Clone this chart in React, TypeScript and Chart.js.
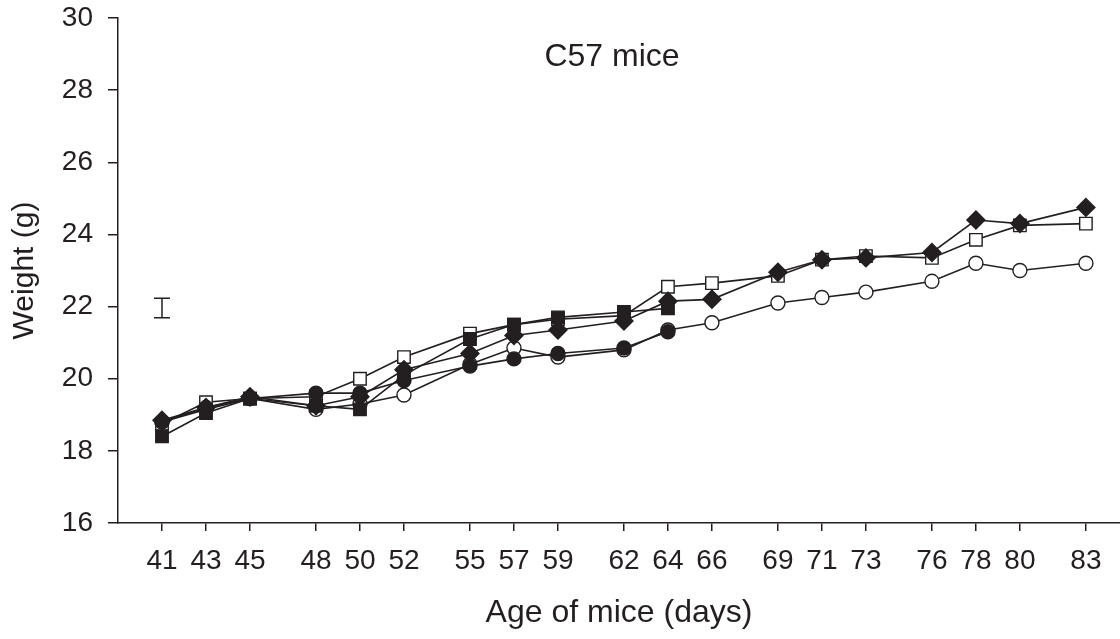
import React, { useEffect, useRef } from 'react';
import { Chart, registerables } from 'chart.js';

Chart.register(...registerables);

// Age of mice (days) at which weight was recorded
const days = [41, 43, 45, 48, 50, 52, 55, 57, 59, 62, 64, 66, 69, 71, 73, 76, 78, 80, 83];
const xTickDays = [41, 43, 45, 48, 50, 52, 55, 57, 59, 62, 64, 66, 69, 71, 73, 76, 78, 80, 83];
const yTickValues = [16, 18, 20, 22, 24, 26, 28, 30];

// Weight (g) per group
const filledDiamond = [18.85, 19.2, 19.5, 19.25, 19.5, 20.25, 20.7, 21.2, 21.35, 21.6, 22.15, 22.2, 22.95, 23.3, 23.35, 23.5, 24.4, 24.3, 24.75];
const openSquare = [18.75, 19.35, 19.45, 19.5, 20.0, 20.6, 21.25, 21.5, 21.65, 21.75, 22.55, 22.65, 22.85, 23.3, 23.4, 23.35, 23.85, 24.25, 24.3];
const openCircle = [18.8, 19.15, 19.45, 19.15, 19.3, 19.55, 20.4, 20.85, 20.6, 20.8, 21.35, 21.55, 22.1, 22.25, 22.4, 22.7, 23.2, 23.0, 23.2];
const filledCircle = [18.8, 19.2, 19.45, 19.6, 19.6, 19.95, 20.35, 20.55, 20.7, 20.85, 21.3];
const filledSquare = [18.4, 19.05, 19.45, 19.25, 19.15, 20.1, 21.1, 21.5, 21.7, 21.85, 21.95];

// Representative error bar
const errorBarDay = [41];
const errorBarMean = [21.96];
const errorBarHalf = [0.27];

const chartTitle = 'C57 mice';
const xTitle = 'Age of mice (days)';
const yTitle = 'Weight (g)';

const INK = '#231f20';
const FONT = 'Arial, "Liberation Sans", Helvetica, sans-serif';

export default function App() {
  const ref = useRef<HTMLCanvasElement>(null);

  useEffect(() => {
    document.body.style.margin = '0';
    const canvas = ref.current;
    if (!canvas) return;

    const mk = (label: string, values: number[], style: any, radius: number, filled: boolean, order: number) => ({
      label,
      data: values.map((v, i) => ({ x: days[i], y: v })),
      pointStyle: style,
      pointRadius: radius,
      pointHoverRadius: radius,
      pointBackgroundColor: filled ? INK : '#ffffff',
      pointBorderColor: INK,
      pointBorderWidth: 1.4,
      borderColor: INK,
      borderWidth: 1.6,
      fill: false,
      tension: 0,
      order,
    });

    const overlay = {
      id: 'overlay',
      afterDatasetsDraw(chart: any) {
        const { ctx, scales } = chart;
        const xs = scales.x;
        const ys = scales.y;
        ctx.save();
        ctx.strokeStyle = INK;
        ctx.lineWidth = 1.5;
        for (let i = 0; i < errorBarDay.length; i++) {
          const px = xs.getPixelForValue(errorBarDay[i]);
          const top = ys.getPixelForValue(errorBarMean[i] + errorBarHalf[i]);
          const bot = ys.getPixelForValue(errorBarMean[i] - errorBarHalf[i]);
          const cap = 8;
          ctx.beginPath();
          ctx.moveTo(px, top);
          ctx.lineTo(px, bot);
          ctx.moveTo(px - cap, top);
          ctx.lineTo(px + cap, top);
          ctx.moveTo(px - cap, bot);
          ctx.lineTo(px + cap, bot);
          ctx.stroke();
        }
        ctx.fillStyle = INK;
        ctx.font = `32px ${FONT}`;
        ctx.textAlign = 'center';
        ctx.textBaseline = 'middle';
        ctx.fillText(chartTitle, 612, 57);
        ctx.restore();
      },
    };

    const chart = new Chart(canvas, {
      type: 'line',
      data: {
        datasets: [
          mk('filled square', filledSquare, 'rect', 8.8, true, 0),
          mk('filled circle', filledCircle, 'circle', 7, true, 1),
          mk('filled diamond', filledDiamond, 'rectRot', 9, true, 2),
          mk('open square', openSquare, 'rect', 8.8, false, 3),
          mk('open circle', openCircle, 'circle', 7, false, 4),
        ] as any,
      },
      options: {
        animation: false,
        responsive: false,
        devicePixelRatio: 1,
        layout: { autoPadding: false, padding: { top: 18, left: 0, right: 0, bottom: 0 } },
        plugins: {
          legend: { display: false },
          tooltip: { enabled: false },
          title: { display: false },
        },
        events: [],
        scales: {
          x: {
            type: 'linear',
            min: 39,
            max: 84.55,
            afterBuildTicks: (scale: any) => {
              scale.ticks = xTickDays.map((v) => ({ value: v }));
            },
            afterFit: (scale: any) => {
              scale.height = 116;
              scale.paddingLeft = 0;
              scale.paddingRight = 0;
              scale.paddingTop = 0;
              scale.paddingBottom = 0;
            },
            ticks: {
              color: INK,
              font: { family: FONT, size: 28 },
              padding: 13,
              maxRotation: 0,
              autoSkip: false,
              callback: (v: any) => String(v),
            },
            grid: {
              display: true,
              drawOnChartArea: false,
              drawTicks: true,
              tickLength: 8,
              color: INK,
              lineWidth: 1.5,
            },
            border: { display: true, color: INK, width: 1.5 },
            title: {
              display: true,
              text: xTitle,
              color: INK,
              font: { family: FONT, size: 32 },
              padding: { top: 0, bottom: 7 },
            },
          },
          y: {
            type: 'linear',
            min: 16,
            max: 30,
            afterBuildTicks: (scale: any) => {
              scale.ticks = yTickValues.map((v) => ({ value: v }));
            },
            afterFit: (scale: any) => {
              scale.width = 118;
              scale.paddingLeft = 0;
              scale.paddingRight = 0;
              scale.paddingTop = 0;
              scale.paddingBottom = 0;
            },
            ticks: {
              color: INK,
              font: { family: FONT, size: 28 },
              padding: 15,
              autoSkip: false,
              callback: (v: any) => String(v),
            },
            grid: {
              display: true,
              drawOnChartArea: false,
              drawTicks: true,
              tickLength: 10,
              color: INK,
              lineWidth: 1.5,
            },
            border: { display: true, color: INK, width: 1.5 },
            title: {
              display: true,
              text: yTitle,
              color: INK,
              font: { family: FONT, size: 30 },
              padding: { top: 7, bottom: 0 },
            },
          },
        },
      },
      plugins: [overlay],
    });

    return () => chart.destroy();
  }, []);

  return (
    <canvas
      ref={ref}
      width={1120}
      height={639}
      style={{ display: 'block', position: 'absolute', left: 0, top: 0 }}
    />
  );
}
